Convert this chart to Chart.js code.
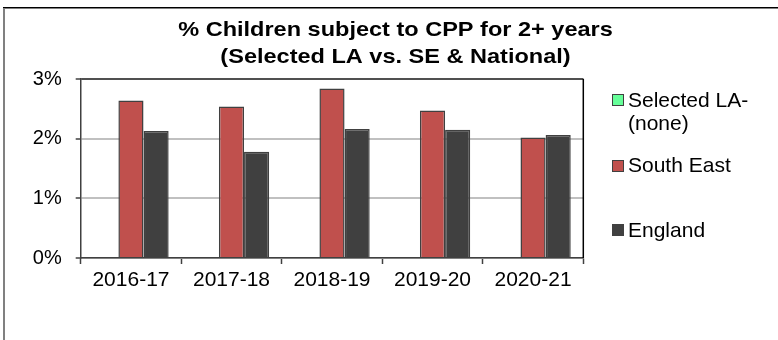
<!DOCTYPE html>
<html>
<head>
<meta charset="utf-8">
<title>CPP 2+ years</title>
<script src="https://cdn.jsdelivr.net/npm/chart.js@4/dist/chart.umd.min.js"></script>
<style>
  html, body { margin: 0; padding: 0; background: #fff; }
  #wrap { width: 778px; height: 340px; overflow: hidden; }
</style>
</head>
<body>
<div id="wrap"><canvas id="chart" width="778" height="340"></canvas></div>
<script>
'use strict';
//chart data
let years = ['2016-17', '2017-18', '2018-19', '2019-20', '2020-21'];
let seriesNames = ['Selected LA-\n(none)', 'South East', 'England'];
let selectedLA = [null, null, null, null, null];
let southEast = [2.64, 2.54, 2.84, 2.47, 2.02];
let england = [2.13, 1.78, 2.16, 2.15, 2.06];
let yTicks = [0, 1, 2, 3];
let titleLines = ['% Children subject to CPP for 2+ years', '(Selected LA vs. SE & National)'];

//colours
let seriesColors = ['#66ff99', '#c0504d', '#404040'];
let outlineColor = '#404040';
let fontFamily = '"Liberation Sans", Arial, sans-serif';

//legend rows: box top and text baselines
let legendRows = [
  { boxTop: 94, baselines: [106.7, 129.5] },
  { boxTop: 160, baselines: [171.7] },
  { boxTop: 224, baselines: [236.7] }
];

//draws the outer frame, plot box, two line title and the legend
let decorPlugin = {
  id: 'decor',
  beforeDraw(chart) {
    let ctx = chart.ctx;
    ctx.save();
    ctx.fillStyle = '#000';
    ctx.fillRect(3, 7, 775, 1.5);
    ctx.fillStyle = '#808080';
    ctx.fillRect(3, 8, 2, 332);
    ctx.restore();
  },
  afterDatasetsDraw(chart) {
    let ctx = chart.ctx;
    let area = chart.chartArea;
    ctx.save();
    ctx.strokeStyle = '#505050';
    ctx.lineWidth = 1.5;
    ctx.beginPath();
    ctx.moveTo(area.left, area.top);
    ctx.lineTo(area.right, area.top);
    ctx.stroke();
    ctx.strokeStyle = '#000';
    ctx.beginPath();
    ctx.moveTo(area.right, area.top);
    ctx.lineTo(area.right, area.bottom);
    ctx.stroke();
    ctx.restore();
  },
  afterDraw(chart) {
    let ctx = chart.ctx;
    //title, a bit wider than the plain bold face
    ctx.save();
    ctx.fillStyle = '#000';
    ctx.font = 'bold 21px ' + fontFamily;
    ctx.textAlign = 'center';
    ctx.textBaseline = 'alphabetic';
    let titleBaselines = [36, 62.5];
    for (let i = 0; i < titleLines.length; i++) {
      ctx.save();
      ctx.translate(395.5, titleBaselines[i]);
      ctx.scale(1.12, 1);
      ctx.fillText(titleLines[i], 0, 0);
      ctx.restore();
    }
    ctx.restore();

    //legend
    ctx.save();
    ctx.font = '21px ' + fontFamily;
    ctx.textAlign = 'left';
    ctx.textBaseline = 'alphabetic';
    chart.data.datasets.forEach(function (ds, i) {
      let row = legendRows[i];
      ctx.fillStyle = ds.backgroundColor;
      ctx.fillRect(612.5, row.boxTop + 0.5, 11, 11);
      ctx.strokeStyle = outlineColor;
      ctx.lineWidth = 1;
      ctx.strokeRect(612.5, row.boxTop + 0.5, 11, 11);
      ctx.fillStyle = '#000';
      let lines = ds.label.split('\n');
      for (let j = 0; j < lines.length; j++) {
        ctx.fillText(lines[j], 628, row.baselines[j]);
      }
    });
    ctx.restore();
  }
};

function makeDataset(index, values) {
  return {
    label: seriesNames[index],
    data: values,
    backgroundColor: seriesColors[index],
    borderColor: outlineColor,
    borderWidth: 1.5,
    categoryPercentage: 0.75,
    barPercentage: 1.0
  };
}

let ctx = document.getElementById('chart').getContext('2d');
new Chart(ctx, {
  type: 'bar',
  data: {
    labels: years,
    datasets: [
      makeDataset(0, selectedLA),
      makeDataset(1, southEast),
      makeDataset(2, england)
    ]
  },
  plugins: [decorPlugin],
  options: {
    responsive: false,
    devicePixelRatio: 1,
    animation: false,
    layout: {
      padding: { left: 30, right: 194.7, top: 79, bottom: 0 }
    },
    plugins: {
      legend: { display: false },
      title: { display: false },
      tooltip: { enabled: false }
    },
    scales: {
      x: {
        afterFit: function (scale) { scale.height = 82; },
        grid: {
          drawOnChartArea: false,
          drawTicks: true,
          tickLength: 6,
          tickColor: outlineColor,
          tickWidth: 1.5,
          offset: true
        },
        border: { color: outlineColor, width: 1.5 },
        ticks: {
          color: '#000',
          font: { family: fontFamily, size: 21 },
          padding: 4,
          maxRotation: 0
        }
      },
      y: {
        min: 0,
        max: 3,
        afterFit: function (scale) { scale.width = 50.7; },
        afterBuildTicks: function (scale) {
          scale.ticks = yTicks.map(function (v) { return { value: v }; });
        },
        grid: {
          color: function (c) { return c.tick && c.tick.value === 3 ? '#505050' : '#c0c0c0'; },
          lineWidth: 2,
          tickLength: 5,
          tickColor: outlineColor,
          tickWidth: 1.5
        },
        border: { color: outlineColor, width: 1.5 },
        ticks: {
          color: '#000',
          font: { family: fontFamily, size: 20 },
          padding: 14,
          callback: function (v) { return v + '%'; }
        }
      }
    }
  }
});
</script>
</body>
</html>
